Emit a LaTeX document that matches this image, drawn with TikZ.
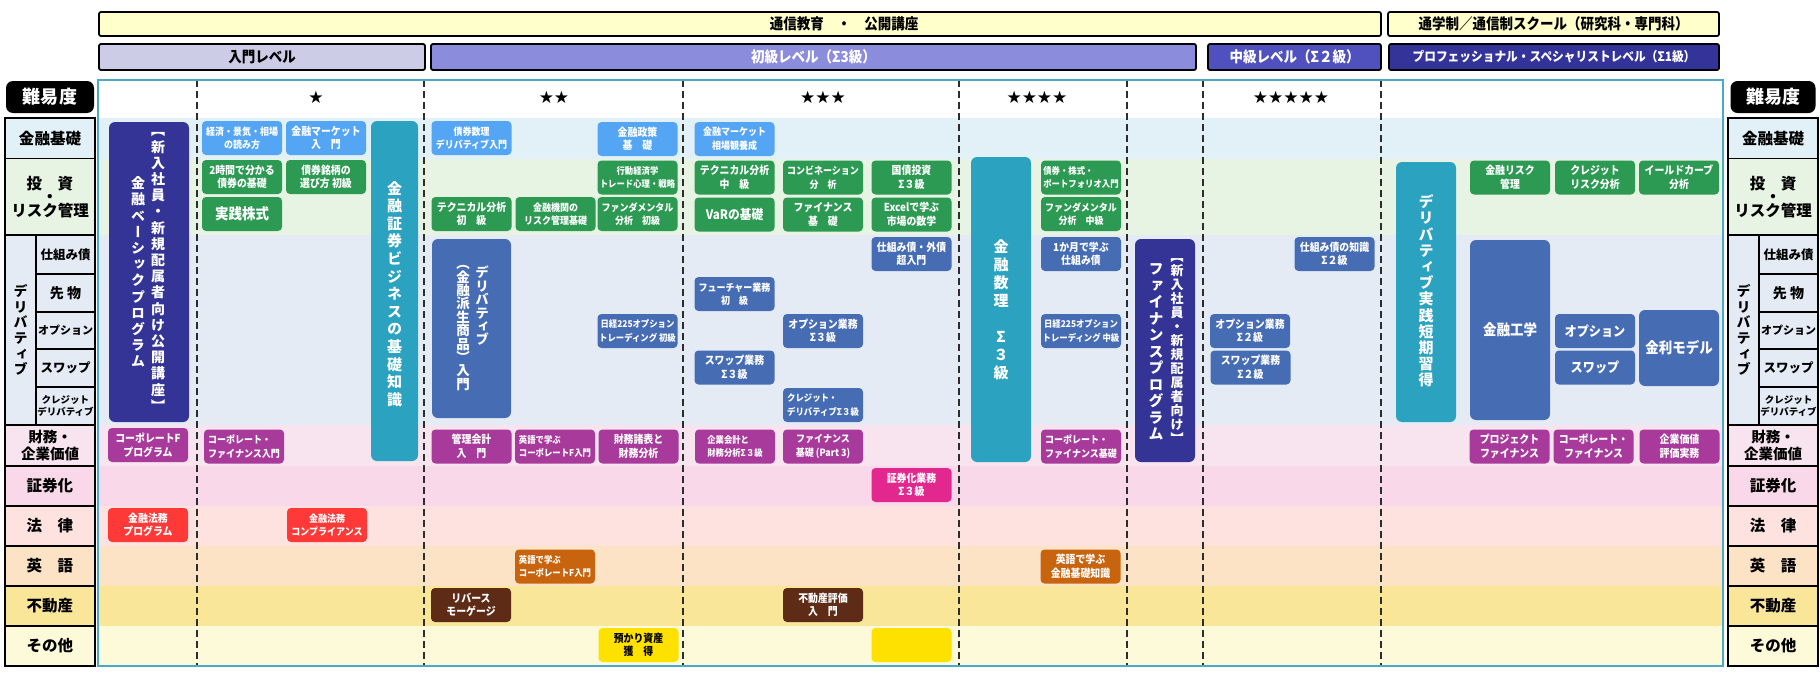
\documentclass[tikz,border=0pt]{standalone}
\usepackage{fontspec}
\newfontfamily\jp[FakeStretch=0.9]{Noto Sans CJK JP}
\newfontfamily\jpw{Noto Sans CJK JP}
\newfontfamily\jpv[RawFeature=+vert]{Noto Sans CJK JP}
\newfontfamily\starfont{DejaVu Sans}

\definecolor{cSky}{RGB}{85,165,245}
\definecolor{cGreen}{RGB}{44,154,82}
\definecolor{cBlue}{RGB}{70,108,180}
\definecolor{cTeal}{RGB}{42,162,192}
\definecolor{cNavy}{RGB}{52,52,150}
\definecolor{cPurple}{RGB}{168,58,155}
\definecolor{cMagenta}{RGB}{226,40,143}
\definecolor{cRed}{RGB}{255,56,56}
\definecolor{cOrange}{RGB}{200,100,14}
\definecolor{cBrown}{RGB}{94,43,23}
\definecolor{cYellow}{RGB}{255,225,0}
\definecolor{bKiso}{RGB}{226,241,247}
\definecolor{bToshi}{RGB}{231,244,228}
\definecolor{bDeriv}{RGB}{229,235,245}
\definecolor{bZaimu}{RGB}{247,228,238}
\definecolor{bShoken}{RGB}{249,217,233}
\definecolor{bHoritsu}{RGB}{253,226,224}
\definecolor{bEigo}{RGB}{252,227,198}
\definecolor{bFudosan}{RGB}{249,230,153}
\definecolor{bSonota}{RGB}{253,250,218}
\definecolor{hYellow}{RGB}{255,255,204}
\definecolor{hNyumon}{RGB}{204,204,230}
\definecolor{hShokyu}{RGB}{140,140,220}
\definecolor{hChukyu}{RGB}{80,80,190}
\definecolor{hPro}{RGB}{51,51,153}
\definecolor{frameTeal}{RGB}{75,168,200}
\definecolor{dashGray}{RGB}{45,45,45}

\begin{document}
\begin{tikzpicture}[x = 1pt, y = -1pt,
    course/.style = {shape = rectangle, rounded corners = 4pt, minimum width = 80pt,
                     minimum height = 34pt, inner sep = 0pt, align = center, text = white,
                     font = \jp\bfseries\fontsize{11}{13.5}\selectfont},
    narrow/.style = {font = \jp\bfseries\fontsize{10}{13.5}\selectfont},
    cramped/.style = {font = \jp\bfseries\fontsize{9.3}{13.5}\selectfont},
    pillar/.style = {shape = rectangle, rounded corners = 6pt, inner sep = 0pt,
                     text = white, font = \jp\bfseries\fontsize{15}{17}\selectfont},
    vtext/.style = {align = center, text = white, inner sep = 0pt,
                    font = \jpv\bfseries\fontsize{14}{16.2}\selectfont},
    cat/.style = {shape = rectangle, draw, line width = 1.1pt, inner sep = 0pt, align = center,
                  font = \jpw\bfseries\fontsize{15.5}{17}\selectfont},
    hdr/.style = {shape = rectangle, draw, line width = 1.8pt, rounded corners = 2pt,
                  minimum height = 24pt, inner sep = 0pt,
                  font = \jp\bfseries\fontsize{15}{17}\selectfont},
    star/.style = {inner sep = 0pt, font = \starfont\fontsize{17}{19}\selectfont},
    diff/.style = {shape = rectangle, fill = black, rounded corners = 7pt, minimum height = 32pt,
                   text = white, font = \jpw\bfseries\fontsize{18}{20}\selectfont},
    dashline/.style = {dashGray, line width = 1.8pt, dash pattern = on 7pt off 4pt}]

  \useasboundingbox (0, 0) rectangle (1820, 680);

  \node [hdr, fill = hYellow, minimum width = 1282pt] (tsushin) at (740, 24) {};
  \node [inner sep = 0pt, font = \jp\bfseries\fontsize{15}{17}\selectfont] (tsushinT) at (844, 24) {通信教育　・　公開講座};
  \node [hdr, fill = hYellow, minimum width = 331pt] (school) at (1553.5, 24) {通学制／通信制スクール（研究科・専門科）};
  \node [hdr, fill = hNyumon, minimum width = 326pt, minimum height = 26pt] (nyumon) at (262, 57) {入門レベル};
  \node [hdr, fill = hShokyu, text = white, minimum width = 765pt, minimum height = 26pt] (shokyu) at (813.5, 57) {初級レベル（Σ3級）};
  \node [hdr, fill = hChukyu, text = white, minimum width = 173pt, minimum height = 26pt] (chukyu) at (1294.5, 57) {中級レベル（Σ２級）};
  \node [hdr, fill = hPro, text = white, minimum width = 330pt, minimum height = 26pt,
         font = \jp\bfseries\fontsize{13}{15}\selectfont] (pro) at (1554, 57) {プロフェッショナル・スペシャリストレベル（Σ1級）};

  \fill [bKiso]    (98, 118)   rectangle (1723, 158.5);
  \fill [bToshi]   (98, 158.5) rectangle (1723, 235);
  \fill [bDeriv]   (98, 235)   rectangle (1723, 425);
  \fill [bZaimu]   (98, 425)   rectangle (1723, 466);
  \fill [bShoken]  (98, 466)   rectangle (1723, 506);
  \fill [bHoritsu] (98, 506)   rectangle (1723, 546);
  \fill [bEigo]    (98, 546)   rectangle (1723, 586);
  \fill [bFudosan] (98, 586)   rectangle (1723, 626);
  \fill [bSonota]  (98, 626)   rectangle (1723, 666);
  \draw [dashline] (197, 80) -- (197, 666)
                   (424, 80) -- (424, 666)
                   (683, 80) -- (683, 666)
                   (959, 80) -- (959, 666)
                   (1127, 80) -- (1127, 666)
                   (1203, 80) -- (1203, 666)
                   (1381, 80) -- (1381, 666);
  \draw [frameTeal, line width = 1.4pt] (98, 80) rectangle (1723, 666);

  \node [star] (lv1) at (316, 97)  {★};
  \node [star] (lv2) at (554, 97)  {★★};
  \node [star] (lv3) at (823, 97)  {★★★};
  \node [star] (lv4) at (1037, 97) {★★★★};
  \node [star] (lv5) at (1291, 97) {★★★★★};

  \node [diff, minimum width = 88pt] (ldiff) at (50, 97)   {難易度};
  \node [diff, minimum width = 85pt] (rdiff) at (1773, 97) {難易度};

  \node [cat, fill = bKiso, minimum width = 90pt, minimum height = 40.5pt] (lkiso) at (50, 138.25) {金融基礎};
  \node [cat, fill = bToshi, minimum width = 90pt, minimum height = 76.5pt,
         font = \jpw\bfseries\fontsize{15.5}{13.5}\selectfont] (ltoshi) at (50, 196.75) {投　資\\・\\リスク管理};
  \node [cat, fill = bDeriv, minimum width = 31pt, minimum height = 190pt,
         font = \jpv\bfseries\fontsize{14}{15.6}\selectfont] (lderiv) at (20.5, 330) {デ\\リ\\バ\\テ\\ィ\\ブ};
  \node [cat, fill = bDeriv, minimum width = 59pt, minimum height = 39pt,
         font = \jpw\bfseries\fontsize{12.5}{14}\selectfont] (lsub1) at (65.5, 254.5) {仕組み債};
  \node [cat, fill = bDeriv, minimum width = 59pt, minimum height = 38pt,
         font = \jpw\bfseries\fontsize{14}{16}\selectfont] (lsub2) at (65.5, 293) {先 物};
  \node [cat, fill = bDeriv, minimum width = 59pt, minimum height = 37pt,
         font = \jpw\bfseries\fontsize{11}{13}\selectfont] (lsub3) at (65.5, 330.5) {オプション};
  \node [cat, fill = bDeriv, minimum width = 59pt, minimum height = 38pt,
         font = \jpw\bfseries\fontsize{12.5}{14}\selectfont] (lsub4) at (65.5, 368) {スワップ};
  \node [cat, fill = bDeriv, minimum width = 59pt, minimum height = 38pt,
         font = \jpw\bfseries\fontsize{9.5}{12}\selectfont] (lsub5) at (65.5, 406) {クレジット\\デリバティブ};
  \node [cat, fill = bZaimu, minimum width = 90pt, minimum height = 41pt,
         font = \jpw\bfseries\fontsize{14.5}{17}\selectfont] (lzaimu) at (50, 445.5) {財務・\\企業価値};
  \node [cat, fill = bShoken, minimum width = 90pt, minimum height = 40pt] (lshoken) at (50, 486) {証券化};
  \node [cat, fill = bHoritsu, minimum width = 90pt, minimum height = 40pt] (lhoritsu) at (50, 526) {法　律};
  \node [cat, fill = bEigo, minimum width = 90pt, minimum height = 40pt] (leigo) at (50, 566) {英　語};
  \node [cat, fill = bFudosan, minimum width = 90pt, minimum height = 40pt] (lfudosan) at (50, 606) {不動産};
  \node [cat, fill = bSonota, minimum width = 90pt, minimum height = 40pt] (lsonota) at (50, 646) {その他};
  \draw [line width = 2.2pt] (5, 118) rectangle (95, 666);

  \node [cat, fill = bKiso, minimum width = 90pt, minimum height = 40.5pt] (rkiso) at (1773, 138.25) {金融基礎};
  \node [cat, fill = bToshi, minimum width = 90pt, minimum height = 76.5pt,
         font = \jpw\bfseries\fontsize{15.5}{13.5}\selectfont] (rtoshi) at (1773, 196.75) {投　資\\・\\リスク管理};
  \node [cat, fill = bDeriv, minimum width = 31pt, minimum height = 190pt,
         font = \jpv\bfseries\fontsize{14}{15.6}\selectfont] (rderiv) at (1743.5, 330) {デ\\リ\\バ\\テ\\ィ\\ブ};
  \node [cat, fill = bDeriv, minimum width = 59pt, minimum height = 39pt,
         font = \jpw\bfseries\fontsize{12.5}{14}\selectfont] (rsub1) at (1788.5, 254.5) {仕組み債};
  \node [cat, fill = bDeriv, minimum width = 59pt, minimum height = 38pt,
         font = \jpw\bfseries\fontsize{14}{16}\selectfont] (rsub2) at (1788.5, 293) {先 物};
  \node [cat, fill = bDeriv, minimum width = 59pt, minimum height = 37pt,
         font = \jpw\bfseries\fontsize{11}{13}\selectfont] (rsub3) at (1788.5, 330.5) {オプション};
  \node [cat, fill = bDeriv, minimum width = 59pt, minimum height = 38pt,
         font = \jpw\bfseries\fontsize{12.5}{14}\selectfont] (rsub4) at (1788.5, 368) {スワップ};
  \node [cat, fill = bDeriv, minimum width = 59pt, minimum height = 38pt,
         font = \jpw\bfseries\fontsize{9.5}{12}\selectfont] (rsub5) at (1788.5, 406) {クレジット\\デリバティブ};
  \node [cat, fill = bZaimu, minimum width = 90pt, minimum height = 41pt,
         font = \jpw\bfseries\fontsize{14.5}{17}\selectfont] (rzaimu) at (1773, 445.5) {財務・\\企業価値};
  \node [cat, fill = bShoken, minimum width = 90pt, minimum height = 40pt] (rshoken) at (1773, 486) {証券化};
  \node [cat, fill = bHoritsu, minimum width = 90pt, minimum height = 40pt] (rhoritsu) at (1773, 526) {法　律};
  \node [cat, fill = bEigo, minimum width = 90pt, minimum height = 40pt] (reigo) at (1773, 566) {英　語};
  \node [cat, fill = bFudosan, minimum width = 90pt, minimum height = 40pt] (rfudosan) at (1773, 606) {不動産};
  \node [cat, fill = bSonota, minimum width = 90pt, minimum height = 40pt] (rsonota) at (1773, 646) {その他};
  \draw [line width = 2.2pt] (1728, 118) rectangle (1818, 666);

  \node [pillar, fill = cNavy, minimum width = 80pt, minimum height = 300pt] (basic) at (149, 272) {};
  \node [vtext] (basicR) at (158, 272) {【\\新\\入\\社\\員\\・\\新\\規\\配\\属\\者\\向\\け\\公\\開\\講\\座\\】};
  \node [vtext] (basicL) at (138, 272) {金\\融\\ベ\\ー\\シ\\ッ\\ク\\プ\\ロ\\グ\\ラ\\ム};
  \node [course, fill = cPurple] (corpF) at (148, 445) {コーポレートF\\プログラム};
  \node [course, fill = cRed] (legalP) at (148, 525) {金融法務\\プログラム};

  \node [course, fill = cSky, narrow] (keizai) at (242, 138) {経済・景気・相場\\の読み方};
  \node [course, fill = cSky] (mktintro) at (326, 138) {金融マーケット\\入　門};
  \node [course, fill = cGreen] (bond2h) at (242, 177) {2時間で分かる\\債券の基礎};
  \node [course, fill = cGreen] (bondpick) at (326, 177) {債券銘柄の\\選び方 初級};
  \node [course, fill = cGreen, font = \jp\bfseries\fontsize{15}{17}\selectfont] (stock) at (242, 214) {実践株式};
  \node [pillar, fill = cTeal, minimum width = 47pt, minimum height = 340pt] (secbiz) at (394.5, 291) {};
  \node [vtext, font = \jpv\bfseries\fontsize{15}{17.6}\selectfont] (secbizT) at (394.5, 294) {金\\融\\証\\券\\ビ\\ジ\\ネ\\ス\\の\\基\\礎\\知\\識};
  \node [course, fill = cPurple, narrow, align = left] (corpintro) at (244, 446.5) {コーポレート・\\ファイナンス入門};
  \node [course, fill = cRed, narrow] (compliance) at (327, 525) {金融法務\\コンプライアンス};

  \node [course, fill = cSky, narrow] (bondmath) at (471.5, 138) {債券数理\\デリバティブ入門};
  \node [course, fill = cSky] (policy) at (637.5, 139) {金融政策\\基　礎};
  \node [course, fill = cGreen, cramped] (behav) at (637.5, 177.5) {行動経済学\\トレード心理・戦略};
  \node [course, fill = cGreen] (tech1) at (471.5, 214) {テクニカル分析\\初　級};
  \node [course, fill = cGreen, narrow] (riskbase) at (555.5, 214) {金融機関の\\リスク管理基礎};
  \node [course, fill = cGreen, narrow] (fund1) at (637.5, 214) {ファンダメンタル\\分析　初級};
  \node [pillar, fill = cBlue, minimum width = 79pt, minimum height = 179pt] (derivintro) at (471.5, 328.5) {};
  \node [vtext, font = \jpv\bfseries\fontsize{13.5}{13.4}\selectfont] (derivintroR) at (482, 306) {デ\\リ\\バ\\テ\\ィ\\ブ};
  \node [vtext, font = \jpv\bfseries\fontsize{13.5}{13.4}\selectfont] (derivintroL) at (463, 328) {（\\金\\融\\派\\生\\商\\品\\）\\入\\門};
  \node [course, fill = cBlue, cramped] (n225a) at (637.5, 331) {日経225オプション\\トレーディング 初級};
  \node [course, fill = cPurple] (mgmtacc) at (471.5, 446.5) {管理会計\\入　門};
  \node [course, fill = cPurple, cramped, align = left] (engcorpA) at (555, 446.5) {英語で学ぶ\\コーポレートF入門};
  \node [course, fill = cPurple] (fsa) at (638.5, 446.5) {財務諸表と\\財務分析};
  \node [course, fill = cOrange, cramped, align = left] (engcorpB) at (555, 566.5) {英語で学ぶ\\コーポレートF入門};
  \node [course, fill = cBrown] (reverse) at (471, 605) {リバース\\モーゲージ};
  \node [course, fill = cYellow, text = black] (assets) at (638.5, 645) {預かり資産\\獲　得};

  \node [course, fill = cSky, narrow] (mktview) at (734.5, 139) {金融マーケット\\相場観養成};
  \node [course, fill = cGreen] (tech2) at (734.5, 177.5) {テクニカル分析\\中　級};
  \node [course, fill = cGreen, narrow] (combo) at (823, 177.5) {コンビネーション\\分　析};
  \node [course, fill = cGreen] (jgb) at (911.5, 177.5) {国債投資\\Σ３級};
  \node [course, fill = cGreen, font = \jp\bfseries\fontsize{13}{15}\selectfont] (var) at (734.5, 214.5) {VaRの基礎};
  \node [course, fill = cGreen] (finbase) at (823, 214.5) {ファイナンス\\基　礎};
  \node [course, fill = cGreen] (excel) at (911.5, 214.5) {Excelで学ぶ\\市場の数学};
  \node [course, fill = cBlue] (structfx) at (911.5, 254) {仕組み債・外債\\超入門};
  \node [course, fill = cBlue, narrow] (futures) at (734.5, 294) {フューチャー業務\\初　級};
  \node [course, fill = cBlue] (option3) at (823, 331) {オプション業務\\Σ３級};
  \node [course, fill = cBlue] (swap3) at (734.5, 367.5) {スワップ業務\\Σ３級};
  \node [course, fill = cBlue, cramped, align = left] (credit3) at (823, 405) {クレジット・\\デリバティブΣ３級};
  \node [course, fill = cPurple, cramped, align = left] (corpacc) at (735, 446.5) {企業会計と\\財務分析Σ３級};
  \node [course, fill = cPurple, narrow] (finpart3) at (823, 446.5) {ファイナンス\\基礎 (Part 3)};
  \node [course, fill = cMagenta] (secur3) at (911.5, 485) {証券化業務\\Σ３級};
  \node [course, fill = cBrown] (realest) at (823, 605) {不動産評価\\入　門};
  \node [course, fill = cYellow] (blank) at (911.5, 645) {};

  \node [pillar, fill = cTeal, minimum width = 60pt, minimum height = 305pt] (finmath) at (1001, 309.5) {};
  \node [vtext, font = \jpv\bfseries\fontsize{15}{18}\selectfont] (finmathT) at (1001, 309.5) {金\\融\\数\\理\\[18pt]Σ\\３\\級};
  \node [course, fill = cGreen, cramped, align = left] (portfolio) at (1081, 177.5) {債券・株式・\\ポートフォリオ入門};
  \node [course, fill = cGreen, narrow] (fund2) at (1081, 214) {ファンダメンタル\\分析　中級};
  \node [course, fill = cBlue] (struct1m) at (1081, 254) {1か月で学ぶ\\仕組み債};
  \node [course, fill = cBlue, cramped] (n225b) at (1081, 331) {日経225オプション\\トレーディング 中級};
  \node [course, fill = cPurple, narrow, align = left] (corpfinbase) at (1081, 446.5) {コーポレート・\\ファイナンス基礎};
  \node [course, fill = cOrange] (engfin) at (1080.5, 566.5) {英語で学ぶ\\金融基礎知識};

  \node [pillar, fill = cNavy, minimum width = 60pt, minimum height = 223pt] (finprog) at (1165, 350.5) {};
  \node [vtext, font = \jpv\bfseries\fontsize{13}{14}\selectfont] (finprogR) at (1177, 351.5) {【\\新\\入\\社\\員\\・\\新\\規\\配\\属\\者\\向\\け\\】};
  \node [vtext, font = \jpv\bfseries\fontsize{15}{16.5}\selectfont] (finprogL) at (1156, 352) {フ\\ァ\\イ\\ナ\\ン\\ス\\プ\\ロ\\グ\\ラ\\ム};

  \node [course, fill = cBlue] (struct2) at (1334.5, 254) {仕組み債の知識\\Σ２級};
  \node [course, fill = cBlue] (option2) at (1250, 331) {オプション業務\\Σ２級};
  \node [course, fill = cBlue] (swap2) at (1250.5, 367.5) {スワップ業務\\Σ２級};

  \node [pillar, fill = cTeal, minimum width = 60pt, minimum height = 260pt] (derivprac) at (1426, 292) {};
  \node [vtext, font = \jpv\bfseries\fontsize{15}{16.2}\selectfont] (derivpracT) at (1426, 291) {デ\\リ\\バ\\テ\\ィ\\ブ\\実\\践\\短\\期\\習\\得};
  \node [course, fill = cGreen] (riskmgmt) at (1510, 177.5) {金融リスク\\管理};
  \node [course, fill = cGreen] (creditrisk) at (1595, 177.5) {クレジット\\リスク分析};
  \node [course, fill = cGreen] (yieldc) at (1679, 177.5) {イールドカーブ\\分析};
  \node [pillar, fill = cBlue, minimum width = 80pt, minimum height = 180pt] (fineng) at (1510, 330) {金融工学};
  \node [course, fill = cBlue, font = \jp\bfseries\fontsize{13.5}{15}\selectfont] (optionP) at (1595, 331) {オプション};
  \node [course, fill = cBlue, font = \jp\bfseries\fontsize{13.5}{15}\selectfont] (swapP) at (1595, 367.5) {スワップ};
  \node [pillar, fill = cBlue, minimum width = 80pt, minimum height = 76pt] (ratemodel) at (1679, 348) {金利モデル};
  \node [course, fill = cPurple] (projfin) at (1509.5, 446.5) {プロジェクト\\ファイナンス};
  \node [course, fill = cPurple] (corpfin) at (1593.5, 446.5) {コーポレート・\\ファイナンス};
  \node [course, fill = cPurple] (valuation) at (1679.5, 446.5) {企業価値\\評価実務};
\end{tikzpicture}
\end{document}
